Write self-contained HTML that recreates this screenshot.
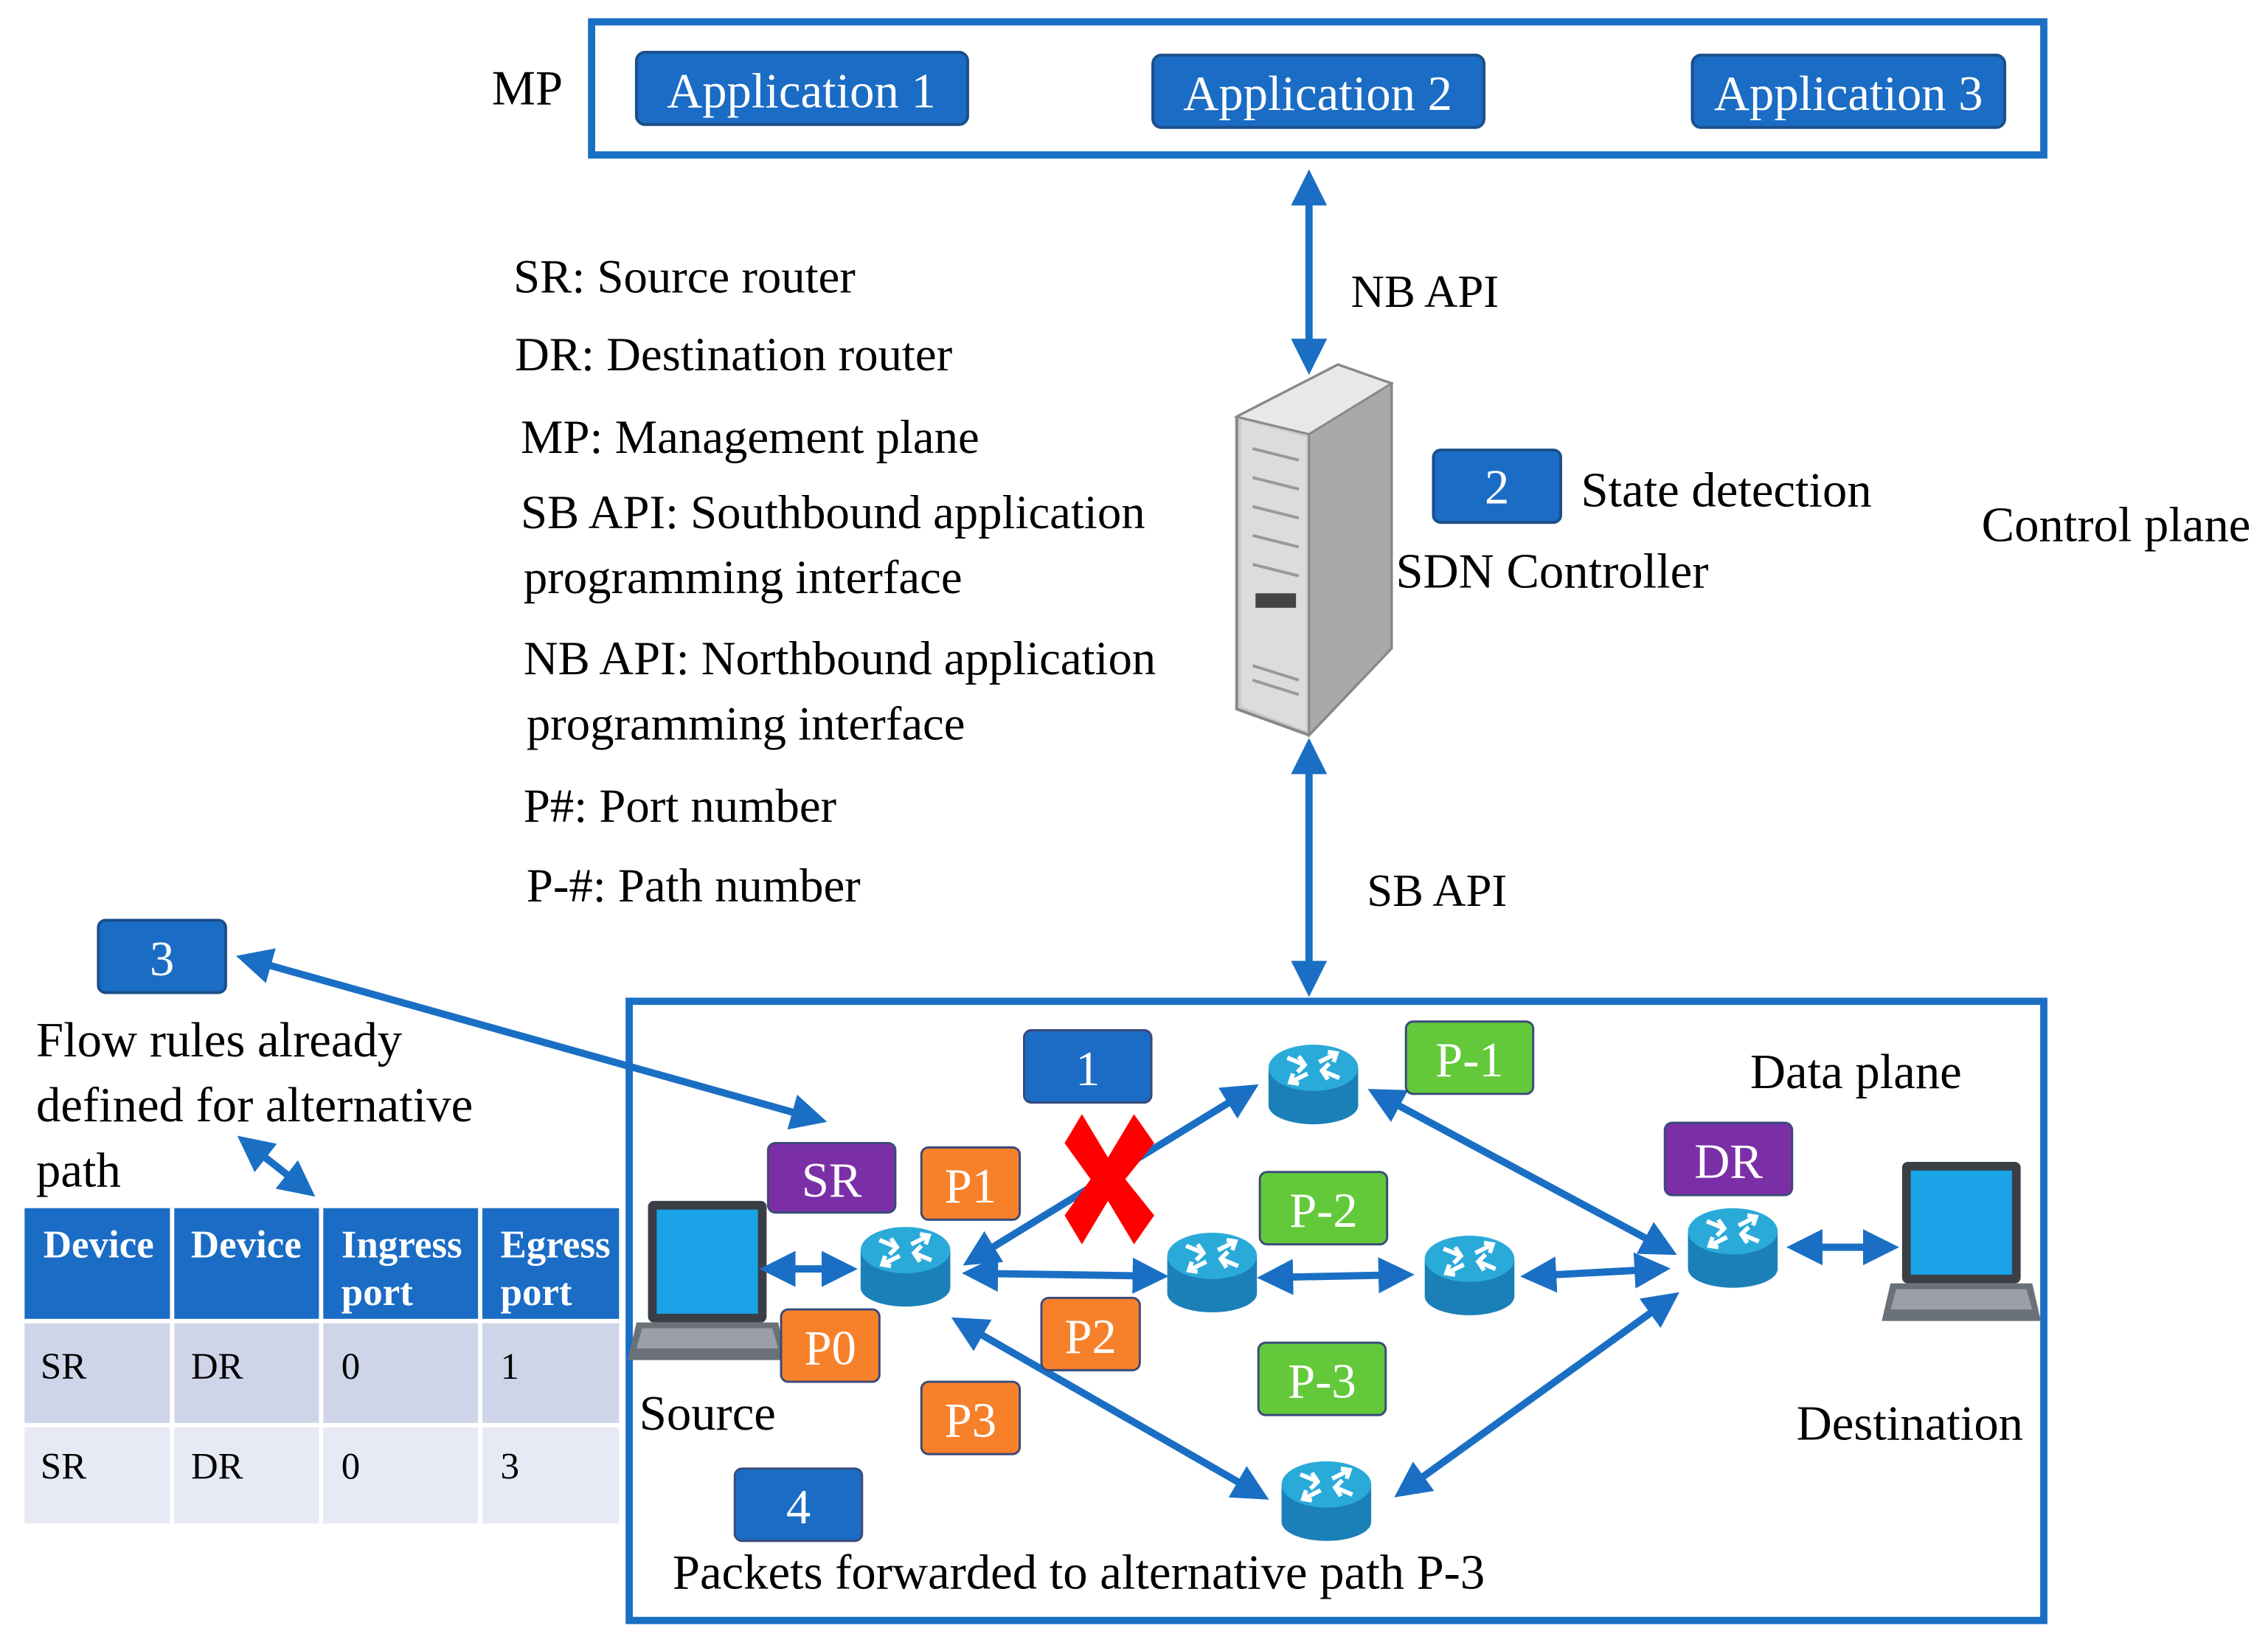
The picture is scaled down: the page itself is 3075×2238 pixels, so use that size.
<!DOCTYPE html>
<html><head><meta charset="utf-8"><style>
html,body{margin:0;padding:0;background:#fff;}
svg{display:block;}
text{font-family:"Liberation Serif",serif;}
</style></head><body>
<svg width="3075" height="2238" viewBox="0 0 1568 1141" xmlns="http://www.w3.org/2000/svg">
<defs>
<marker id="ah" viewBox="0 0 10 10" refX="8" refY="5" markerWidth="5" markerHeight="5" orient="auto-start-reverse">
<path d="M0,0 L10,5 L0,10 z" fill="#1a6fc4"/></marker>
<g id="router">
<path d="M-31,0 L-31,26 A31,13 0 0 0 31,26 L31,0 z" fill="#1b80b8"/>
<ellipse cx="0" cy="0" rx="31" ry="16" fill="#2aaad9"/>
<g stroke="#fff" stroke-width="3" fill="none">
<path d="M-18,-7 L-6,-2 M-10,-8 L-6,-2 L-11,3"/>
<path d="M18,7 L6,2 M10,8 L6,2 L11,-3"/>
<path d="M4,-4 L16,-10 M10,-11 L16,-10 L14,-4"/>
<path d="M-4,4 L-16,10 M-10,11 L-16,10 L-14,4"/>
</g>
</g>
<g id="laptop">
<rect x="0" y="0" width="82" height="84" rx="4" fill="#3a3f45"/>
<rect x="6" y="6" width="70" height="72" fill="#1aa3e6"/>
<path d="M-8,84 L90,84 L96,110 L-14,110 z" fill="#6b7178"/>
<path d="M-4,88 L86,88 L90,102 L-8,102 z" fill="#9aa0a6"/>
</g>
</defs>

<rect x="409" y="15" width="1004" height="92" fill="none" stroke="#1a6fc4" stroke-width="5"/>
<text x="340" y="72" font-size="34">MP</text>
<g fill="#1a6cc4" stroke="#1b4f8a" stroke-width="2">
<rect x="440" y="36" width="229" height="50" rx="6"/>
<rect x="797" y="38" width="229" height="50" rx="6"/>
<rect x="1170" y="38" width="216" height="50" rx="6"/>
</g>
<g fill="#fff" font-size="34" text-anchor="middle">
<text x="554" y="74">Application 1</text>
<text x="911" y="76">Application 2</text>
<text x="1278" y="76">Application 3</text>
</g>

<g stroke="#1a6fc4" stroke-width="5" fill="none" marker-start="url(#ah)" marker-end="url(#ah)">
<line x1="905" y1="122" x2="905" y2="254"/>
<line x1="905" y1="515" x2="905" y2="684"/>
</g>
<text x="934" y="212" font-size="32">NB API</text>
<text x="945" y="626" font-size="32">SB API</text>

<path d="M855,288 L925,252 L962,265 L962,448 L905,508 L855,490 z" fill="#c9c9c9" stroke="#888" stroke-width="2"/>
<path d="M855,288 L925,252 L962,265 L905,300 z" fill="#e8e8e8" stroke="#888" stroke-width="1.5"/>
<path d="M905,300 L962,265 L962,448 L905,508 z" fill="#a9a9a9" stroke="#888" stroke-width="1.5"/>
<path d="M858,290 L903,302 L903,505 L858,488 z" fill="#dcdcdc"/>
<g stroke="#999" stroke-width="2">
<line x1="866" y1="310" x2="898" y2="318"/><line x1="866" y1="330" x2="898" y2="338"/>
<line x1="866" y1="350" x2="898" y2="358"/><line x1="866" y1="370" x2="898" y2="378"/>
<line x1="866" y1="390" x2="898" y2="398"/><line x1="866" y1="460" x2="898" y2="470"/>
<line x1="866" y1="470" x2="898" y2="480"/>
</g>
<rect x="868" y="410" width="28" height="10" fill="#444"/>

<rect x="991" y="311" width="88" height="50" rx="5" fill="#1a6cc4" stroke="#1b4f8a" stroke-width="2"/>
<text x="1035" y="348" font-size="34" fill="#fff" text-anchor="middle">2</text>
<text x="1093" y="350" font-size="34">State detection</text>
<text x="965" y="406" font-size="34">SDN Controller</text>
<text x="1370" y="374" font-size="34">Control plane</text>

<g font-size="33">
<text x="355" y="202">SR: Source router</text>
<text x="356" y="256">DR: Destination router</text>
<text x="360" y="313">MP: Management plane</text>
<text x="360" y="365">SB API: Southbound application</text>
<text x="362" y="410">programming interface</text>
<text x="362" y="466">NB API: Northbound application</text>
<text x="364" y="511">programming interface</text>
<text x="362" y="568">P#: Port number</text>
<text x="364" y="623">P-#: Path number</text>
</g>

<rect x="68" y="636" width="88" height="50" rx="5" fill="#1a6cc4" stroke="#1b4f8a" stroke-width="2"/>
<text x="112" y="674" font-size="34" fill="#fff" text-anchor="middle">3</text>
<g font-size="34">
<text x="25" y="730">Flow rules already</text>
<text x="25" y="775">defined for alternative</text>
<text x="25" y="820">path</text>
</g>
<g stroke="#1a6fc4" stroke-width="5" fill="none" marker-start="url(#ah)" marker-end="url(#ah)">
<line x1="168" y1="662" x2="567" y2="774"/>
<line x1="168" y1="788" x2="214" y2="824"/>
</g>

<rect x="17" y="835" width="411" height="78" fill="#1a6cc4"/>
<rect x="17" y="913" width="411" height="72" fill="#cfd5e9"/>
<rect x="17" y="985" width="411" height="68" fill="#e7eaf4"/>
<g stroke="#fff" stroke-width="3">
<line x1="17" y1="913" x2="428" y2="913"/><line x1="17" y1="985" x2="428" y2="985"/>
<line x1="119" y1="835" x2="119" y2="1053"/><line x1="222" y1="835" x2="222" y2="1053"/><line x1="332" y1="835" x2="332" y2="1053"/>
</g>
<g font-size="27" fill="#fff" font-weight="bold">
<text x="30" y="869">Device</text><text x="132" y="869">Device</text>
<text x="236" y="869">Ingress</text><text x="236" y="902">port</text>
<text x="346" y="869">Egress</text><text x="346" y="902">port</text>
</g>
<g font-size="26">
<text x="28" y="953">SR</text><text x="132" y="953">DR</text><text x="236" y="953">0</text><text x="346" y="953">1</text>
<text x="28" y="1022">SR</text><text x="132" y="1022">DR</text><text x="236" y="1022">0</text><text x="346" y="1022">3</text>
</g>

<rect x="435" y="692" width="978" height="428" fill="none" stroke="#1a6fc4" stroke-width="5"/>
<text x="1210" y="752" font-size="34">Data plane</text>

<use href="#laptop" x="448" y="830"/>
<use href="#laptop" x="1315" y="803"/>
<text x="442" y="988" font-size="34">Source</text>
<text x="1242" y="995" font-size="34">Destination</text>

<g stroke="#1a6fc4" stroke-width="5" fill="none" marker-start="url(#ah)" marker-end="url(#ah)">
<line x1="530" y1="877" x2="588" y2="877"/>
<line x1="670" y1="872" x2="866" y2="752"/>
<line x1="670" y1="880" x2="803" y2="882"/>
<line x1="874" y1="883" x2="973" y2="881"/>
<line x1="1056" y1="882" x2="1150" y2="877"/>
<line x1="950" y1="755" x2="1155" y2="865"/>
<line x1="662" y1="913" x2="873" y2="1034"/>
<line x1="968" y1="1032" x2="1157" y2="896"/>
<line x1="1240" y1="862" x2="1308" y2="862"/>
</g>

<use href="#router" x="626" y="864"/>
<use href="#router" x="908" y="738"/>
<use href="#router" x="838" y="868"/>
<use href="#router" x="1016" y="870"/>
<use href="#router" x="917" y="1026"/>
<use href="#router" x="1198" y="851"/>

<g stroke="#3a4a7a" stroke-width="1.5">
<rect x="531" y="790" width="88" height="48" rx="5" fill="#7b2fa6"/>
<rect x="1151" y="776" width="88" height="50" rx="5" fill="#7b2fa6"/>
<rect x="637" y="793" width="68" height="50" rx="5" fill="#f7812a"/>
<rect x="540" y="905" width="68" height="50" rx="5" fill="#f7812a"/>
<rect x="720" y="897" width="68" height="50" rx="5" fill="#f7812a"/>
<rect x="637" y="955" width="68" height="50" rx="5" fill="#f7812a"/>
<rect x="972" y="706" width="88" height="50" rx="5" fill="#63c93a"/>
<rect x="871" y="810" width="88" height="50" rx="5" fill="#63c93a"/>
<rect x="870" y="928" width="88" height="50" rx="5" fill="#63c93a"/>
<rect x="708" y="712" width="88" height="50" rx="5" fill="#1a6cc4"/>
<rect x="508" y="1015" width="88" height="50" rx="5" fill="#1a6cc4"/>
</g>
<g fill="#fff" font-size="34" text-anchor="middle">
<text x="575" y="827">SR</text>
<text x="1195" y="814">DR</text>
<text x="671" y="831">P1</text>
<text x="574" y="943">P0</text>
<text x="754" y="935">P2</text>
<text x="671" y="993">P3</text>
<text x="1016" y="744">P-1</text>
<text x="915" y="848">P-2</text>
<text x="914" y="966">P-3</text>
<text x="752" y="750">1</text>
<text x="552" y="1053">4</text>
</g>
<path d="M736,790 L748,770 L766,800 L784,770 L798,790 L778,815 L798,840 L784,860 L766,830 L748,860 L736,840 L754,815 z" fill="#ff0000"/>

<text x="465" y="1098" font-size="34">Packets forwarded to alternative path P-3</text>
</svg>
</body></html>
